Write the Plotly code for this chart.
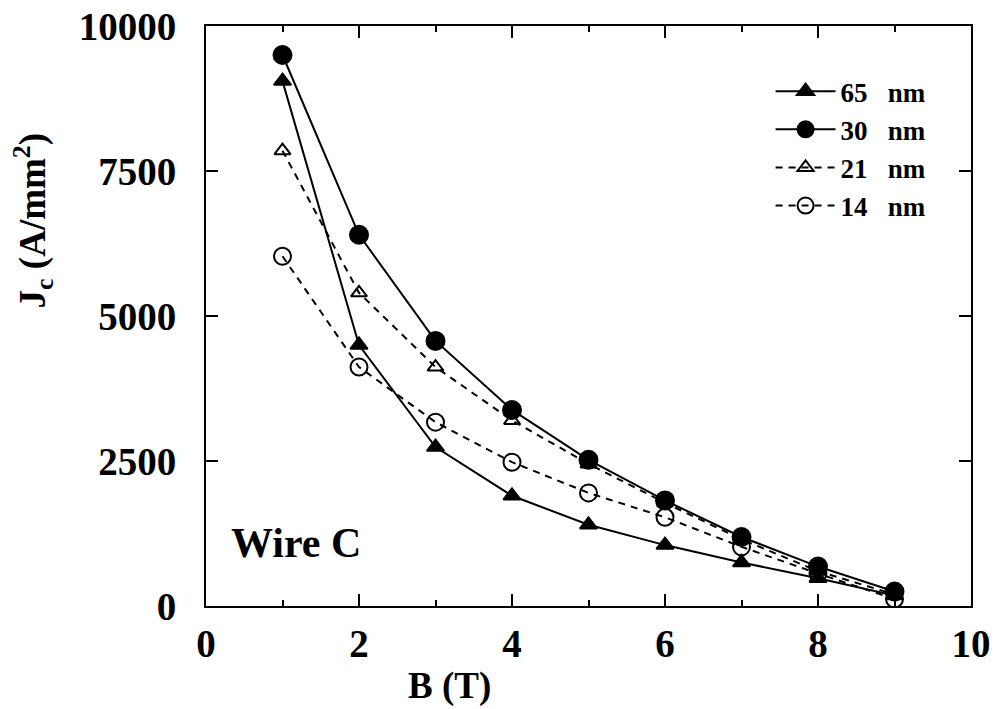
import plotly.graph_objects as go

B = [1, 2, 3, 4, 5, 6, 7, 8, 9]
jc_65 = [9050, 4500, 2740, 1900, 1400, 1050, 750, 480, 180]
jc_30 = [9500, 6400, 4570, 3380, 2520, 1820, 1190, 680, 250]
jc_21 = [7850, 5400, 4120, 3200, 2450, 1780, 1150, 600, 200]
jc_14 = [6030, 4120, 3170, 2480, 1950, 1530, 1020, 560, 120]

names = ["65\u00a0\u00a0\u00a0nm", "30\u00a0\u00a0\u00a0nm", "21\u00a0\u00a0\u00a0nm", "14\u00a0\u00a0\u00a0nm"]
xticks = [0, 2, 4, 6, 8, 10]
xticklabels = ["0", "2", "4", "6", "8", "10"]
yticks = [0, 2500, 5000, 7500, 10000]
yticklabels = ["0", "2500", "5000", "7500", "10000"]

FONT = "Liberation Serif"

fig = go.Figure()
specs = [
    (jc_65, names[0], "triangle-up", "solid", 15),
    (jc_30, names[1], "circle", "solid", 18),
    (jc_21, names[2], "triangle-up-open", "7px,6px", 14),
    (jc_14, names[3], "circle-open", "7px,6px", 17),
]
for ys, nm, sym, dash, sz in specs:
    fig.add_trace(go.Scatter(
        x=B, y=ys, name=nm, mode="lines+markers",
        line=dict(color="black", width=2, dash=dash),
        marker=dict(symbol=sym, size=sz, color="black",
                    line=dict(color="black", width=2)),
    ))

axis_common = dict(
    showgrid=False, zeroline=False, showline=True, linecolor="black",
    linewidth=2, mirror="ticks", ticks="inside", tickcolor="black",
    tickwidth=2, ticklen=12, automargin=False, ticklabeloverflow="allow",
    tickfont=dict(family=FONT, size=39, color="black", weight="bold"),
)

fig.update_layout(
    width=998, height=709,
    margin=dict(l=206, r=27, t=26, b=103),
    paper_bgcolor="white", plot_bgcolor="white",
    font=dict(family=FONT, color="black"),
    xaxis=dict(range=[0, 10], tickvals=xticks, ticktext=xticklabels,
               ticklabelstandoff=2,
               minor=dict(dtick=1, ticks="inside", ticklen=6,
                          tickcolor="black", tickwidth=2),
               **axis_common),
    yaxis=dict(range=[0, 10000], tickvals=yticks, ticktext=yticklabels,
               ticklabelstandoff=20,
               **axis_common),
    legend=dict(x=0.738, y=0.929, xanchor="left", yanchor="top",
                bgcolor="rgba(0,0,0,0)", tracegroupgap=0,
                font=dict(family=FONT, size=27, color="black", weight="bold"),
                itemwidth=60),
    showlegend=True,
    annotations=[
        dict(text="B (T)", xref="paper", yref="paper", x=0.318, y=-0.138,
             xanchor="center", yanchor="middle", showarrow=False,
             font=dict(family=FONT, size=37, color="black", weight="bold")),
        dict(text="J<sub>c</sub> (A/mm<sup>2</sup>)", xref="paper", yref="paper",
             x=-0.226, y=0.665, xanchor="center", yanchor="middle",
             textangle=-90, showarrow=False,
             font=dict(family=FONT, size=37, color="black", weight="bold")),
        dict(text="Wire C", xref="x", yref="y", x=0.3, y=1090,
             xanchor="left", yanchor="middle", showarrow=False,
             font=dict(family=FONT, size=42, color="black", weight="bold")),
    ],
)

fig.write_html(
    "out.html",
    config={"displayModeBar": False},
    post_script="document.body.style.margin='0';document.body.style.overflow='hidden';",
)
